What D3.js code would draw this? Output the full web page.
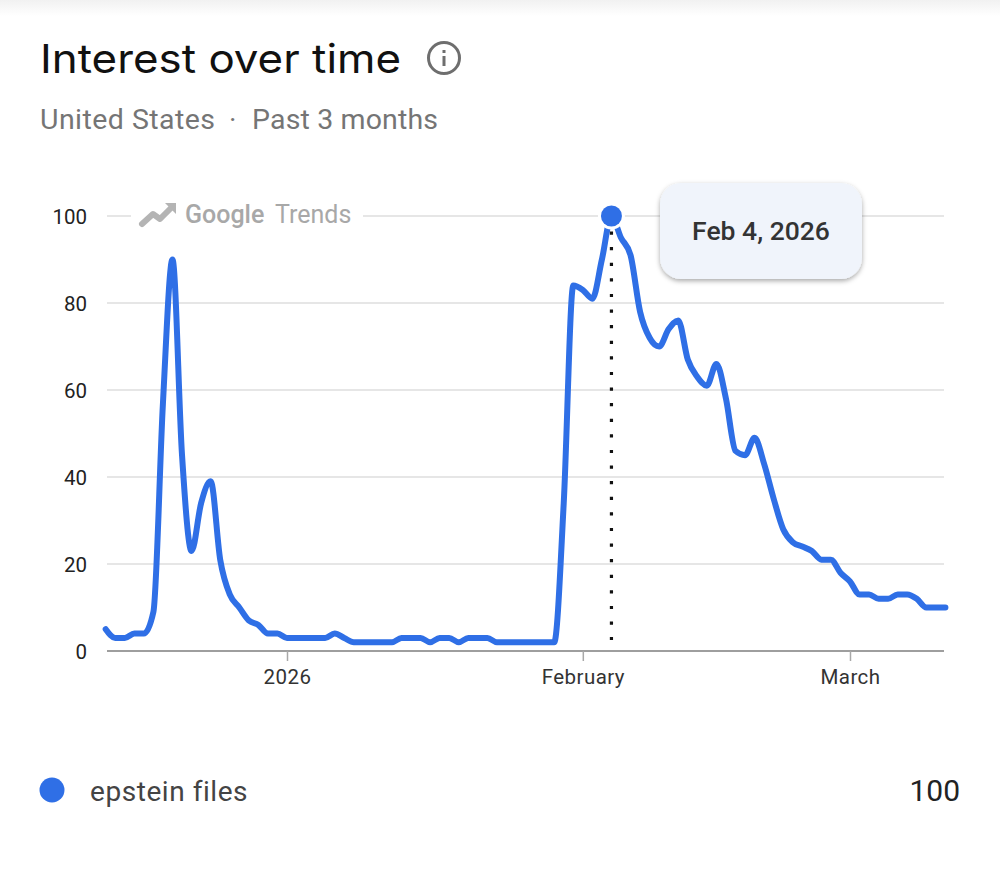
<!DOCTYPE html>
<html><head><meta charset="utf-8">
<script src="https://cdn.jsdelivr.net/npm/d3@7"></script>
<style>html,body{margin:0;padding:0;background:#fff;overflow:hidden}svg{display:block}text{font-family:Roboto,"Open Sans",sans-serif}</style>
</head><body>
<svg id="c" width="1000" height="875"></svg>
<script>
const startDate = "2025-12-13";
const values = [5,3,3,4,4,9,57,90,45,23,34,39,21,13,10,7,6,4,4,
 3,3,3,3,3,4,3,2,2,2,2,2,3,3,3,2,3,3,2,3,3,3,2,2,2,2,2,2,2,34,84,
 83,81,90,100,95,91,78,72,70,74,76,67,63,61,66,58,46,45,49,43,35,28,25,24,23,21,21,18,
 16,13,13,12,12,13,13,12,10,10,10];
const yTicks = [0,20,40,60,80,100];
const xTickDates = ["2026-01-01","2026-02-01","2026-03-01"];
const xTickLabels = ["2026","February","March"];
const seriesName = "epstein files";
const highlightDate = "2026-02-04";
const highlightLabel = "Feb 4, 2026";
const blue = "#2f6fe6";

const parse = d3.utcParse("%Y-%m-%d");
const day0 = parse(startDate);
const data = values.map((v,i)=>({date:d3.utcDay.offset(day0,i),value:v}));
const svg = d3.select("#c");
const defs = svg.append("defs");
const g0 = defs.append("linearGradient").attr("id","top").attr("x1",0).attr("x2",0).attr("y1",0).attr("y2",1);
g0.append("stop").attr("offset",0).attr("stop-color","#f1f1f1");
g0.append("stop").attr("offset",1).attr("stop-color","#ffffff");
const sh = defs.append("filter").attr("id","sh").attr("x","-20%").attr("y","-20%").attr("width","140%").attr("height","150%");
sh.append("feDropShadow").attr("dx",0).attr("dy",2).attr("stdDeviation",2.4).attr("flood-color","#000").attr("flood-opacity",0.34);
svg.append("rect").attr("width",1000).attr("height",16).attr("fill","url(#top)");

const x = d3.scaleUtc().domain([parse("2026-01-01"),parse("2026-03-01")]).range([287,850]);
const y = d3.scaleLinear().domain([0,100]).range([651,216]);

svg.append("text").attr("x",40).attr("y",73).attr("font-size",40).attr("fill","#111").style("font-family","Inter").attr("textLength",361).attr("lengthAdjust","spacingAndGlyphs").text("Interest over time");
const ic = svg.append("g").attr("transform","translate(444,58)");
ic.append("circle").attr("r",15.5).attr("fill","none").attr("stroke","#6e6e6e").attr("stroke-width",3);
ic.append("rect").attr("x",-1.5).attr("y",-2).attr("width",3).attr("height",10).attr("fill","#6e6e6e");
ic.append("rect").attr("x",-1.5).attr("y",-8).attr("width",3).attr("height",3).attr("fill","#6e6e6e");
svg.append("text").attr("x",40).attr("y",129).attr("font-size",28.5).attr("fill","#757575").attr("letter-spacing",0.45).text("United States");
svg.append("text").attr("x",229).attr("y",129).attr("font-size",28.5).attr("fill","#757575").text("·");
svg.append("text").attr("x",252).attr("y",129).attr("font-size",28.5).attr("fill","#757575").attr("letter-spacing",0.15).text("Past 3 months");

const grid = svg.append("g");
yTicks.filter(t=>t>0).forEach(t=>grid.append("line").attr("x1",107).attr("x2",944).attr("y1",y(t)).attr("y2",y(t)).attr("stroke","#e6e6e6").attr("stroke-width",2));
svg.append("rect").attr("x",131).attr("y",200).attr("width",232).attr("height",30).attr("fill","#fff");

const yAxis = d3.axisLeft(y).tickValues(yTicks).tickSize(0).tickPadding(0);
const ya = svg.append("g").attr("transform","translate(87,0)").call(yAxis);
ya.select(".domain").remove();
ya.selectAll("text").attr("font-size",20.5).attr("fill","#222").attr("dy","0.35em");

const xAxis = d3.axisBottom(x).tickValues(xTickDates.map(parse)).tickFormat((d,i)=>xTickLabels[i]).tickSize(10).tickPadding(8);
const xa = svg.append("g").attr("transform","translate(0,651)").call(xAxis);
xa.select(".domain").attr("d","M107,0H944").attr("stroke","#9e9e9e").attr("stroke-width",2);
xa.selectAll(".tick line").attr("stroke","#a8a8a8").attr("stroke-width",1.5);
xa.selectAll("text").attr("font-size",20.5).attr("fill","#333").attr("letter-spacing",0.45);

// Google Trends watermark
svg.append("path").attr("d","M142,224 L153,214 L160,219 L171,208").attr("fill","none").attr("stroke","#b4b4b4").attr("stroke-width",6).attr("stroke-linecap","round").attr("stroke-linejoin","round");
svg.append("path").attr("d","M165,203 L176,203 L176,214 Z").attr("fill","#b4b4b4");
svg.append("text").attr("x",185).attr("y",223).attr("font-size",25).attr("font-weight",500).attr("fill","#a8a8a8").text("Google");
svg.append("text").attr("x",275).attr("y",223).attr("font-size",25).attr("fill","#a8a8a8").text("Trends");

const line = d3.line().x(d=>x(d.date)).y(d=>y(d.value)).curve(d3.curveMonotoneX);
svg.append("path").datum(data).attr("d",line).attr("fill","none").attr("stroke",blue).attr("stroke-width",6).attr("stroke-linejoin","round").attr("stroke-linecap","round");

const hd = parse(highlightDate), hv = data.find(d=>+d.date===+hd).value;
svg.append("circle").attr("cx",x(hd)).attr("cy",y(hv)).attr("r",13.5).attr("fill","#fff");
svg.append("line").attr("x1",x(hd)).attr("x2",x(hd)).attr("y1",y(hv)+15.5).attr("y2",640).attr("stroke","#111").attr("stroke-width",3.2).attr("stroke-dasharray","3.2 12.4");
svg.append("circle").attr("cx",x(hd)).attr("cy",y(hv)).attr("r",10.5).attr("fill",blue);

svg.append("rect").attr("x",660).attr("y",183).attr("width",202).attr("height",96).attr("rx",21).attr("fill","#f0f4fb").attr("filter","url(#sh)");
svg.append("text").attr("x",761).attr("y",240).attr("text-anchor","middle").attr("font-size",26.5).attr("font-weight",500).attr("fill","#333").text(highlightLabel);

svg.append("circle").attr("cx",52).attr("cy",790).attr("r",12.5).attr("fill",blue);
svg.append("text").attr("x",90).attr("y",801).attr("font-size",28).attr("fill","#444").attr("letter-spacing",0.55).text(seriesName);
svg.append("text").attr("x",960).attr("y",801).attr("text-anchor","end").attr("font-size",30).attr("fill","#222").text(d3.max(values));
</script>
</body></html>
